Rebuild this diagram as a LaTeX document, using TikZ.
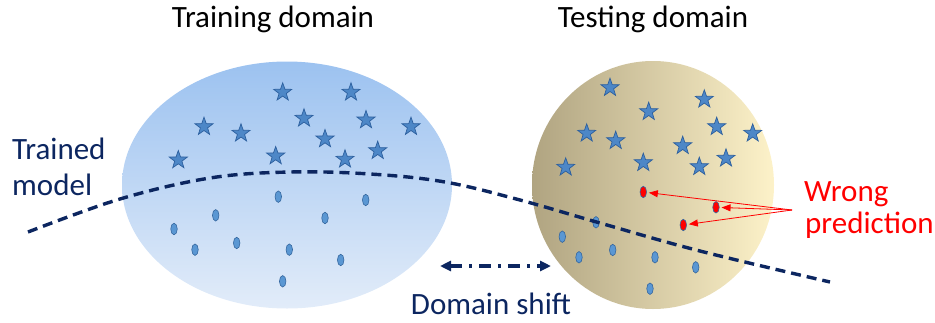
\documentclass[tikz,border=0pt]{standalone}
\usepackage{fontspec}
\setmainfont{Carlito}
\usetikzlibrary{shapes.geometric,arrows.meta}
\definecolor{navy}{HTML}{0C2660}
\definecolor{starfill}{HTML}{4D87C7}
\definecolor{stardraw}{HTML}{2C5F9E}
\definecolor{dotfill}{HTML}{5A97D3}
\definecolor{dotdraw}{HTML}{35679F}
\definecolor{wrongred}{HTML}{FF0000}
\tikzset{
  starpt/.style={star, star points=5, star point ratio=2.5, minimum size=19pt, inner sep=0pt,
    fill=starfill, draw=stardraw, line width=0.7pt},
  dotpt/.style={ellipse, minimum width=6.5pt, minimum height=11.5pt, inner sep=0pt,
    fill=dotfill, draw=dotdraw, line width=0.6pt},
  wrongpt/.style={dotpt, fill=wrongred},
  label30/.style={font=\fontsize{31}{37}\selectfont, inner sep=0pt},
  boundary/.style={draw=navy, line width=3.4pt, dash pattern=on 10pt off 6pt},
  wrongarrow/.style={draw=wrongred, line width=0.8pt, -{Triangle[length=9pt,width=7pt]}, shorten >=2pt},
  shiftarrow/.style={draw=navy, line width=3.2pt, dash pattern=on 12pt off 7pt on 3pt off 7pt,
    {Triangle[length=11pt,width=10pt]}-{Triangle[length=11pt,width=10pt]}}
}
\begin{document}
\begin{tikzpicture}[x=1pt,y=-1pt]
\useasboundingbox (0,0) rectangle (935,322);

% the two domains
\node[ellipse, minimum width=330pt, minimum height=247pt, inner sep=0pt,
  top color={rgb,255:red,156;green,194;blue,240}, bottom color={rgb,255:red,226;green,236;blue,249}]
  (train) at (287,185) {};
\node[ellipse, minimum width=242pt, minimum height=248pt, inner sep=0pt,
  left color={rgb,255:red,176;green,164;blue,129}, right color={rgb,255:red,253;green,242;blue,201}]
  (test) at (653,185) {};

% training samples
\foreach \x/\y [count=\i] in {282.7/92.3, 351/92.3, 304/118.3, 366/120, 204/126.7, 241/133.3,
    411/126.7, 325/139, 178.3/160, 275.7/156, 345/159.3, 377.7/150.7}
  \node[starpt] (trs\i) at (\x,\y) {};
\foreach \x/\y [count=\i] in {278.3/196.7, 365.7/200, 215.7/215.3, 325/218, 174/229, 236.7/243,
    195/249.7, 289.3/249.7, 340.7/260, 282.7/281.3}
  \node[dotpt] (trd\i) at (\x,\y) {};

% testing samples
\foreach \x/\y [count=\i] in {610/87.7, 704.3/99.3, 648.7/111.7, 716.7/126.7, 586.7/133.3,
    615.7/140.7, 752.7/133.3, 682.7/145.7, 726/158.3, 565.7/167.3, 643.3/162.7, 699.3/166.7}
  \node[starpt] (tes\i) at (\x,\y) {};
\foreach \x/\y [count=\i] in {596/222.3, 562.3/236.7, 579/257.3, 612.7/250, 655/257.3,
    695.7/267.3, 650/288.7}
  \node[dotpt] (ted\i) at (\x,\y) {};
\node[wrongpt] (w1) at (643.3,192) {};
\node[wrongpt] (w2) at (716,207.3) {};
\node[wrongpt] (w3) at (683.3,225) {};

% decision boundary of the trained model
\draw[boundary] plot[smooth, tension=0.6] coordinates {(28,232) (120,199) (210,178) (290,172)
  (370,174) (445,182) (520,200) (600,223) (700,251) (830,282)};

% labels
\node[label30, anchor=base] (trainlbl) at (273,27.7) {Training domain};
\node[label30, anchor=base] (testlbl) at (653,27.3) {Testing domain};
\node[label30, anchor=base west, text=navy] (trained) at (12,159.3) {Trained};
\node[label30, anchor=base west, text=navy] (model) at (12,195) {model};
\node[label30, anchor=base, text=navy] (shiftlbl) at (491,314) {Domain shift};
\node[label30, anchor=base west, text=wrongred] (wrong) at (804,201.7) {Wrong};
\node[label30, anchor=base west, text=wrongred] (pred) at (805,233) {prediction};

% wrong prediction pointers
\coordinate (wp) at (792,210);
\draw[wrongarrow] (wp) -- (w1);
\draw[wrongarrow] (wp) -- (w2);
\draw[wrongarrow] (wp) -- (w3);

% domain shift
\coordinate (dsL) at (440,266);
\coordinate (dsR) at (551,266);
\draw[shiftarrow] (dsL) -- (dsR);
\end{tikzpicture}
\end{document}
